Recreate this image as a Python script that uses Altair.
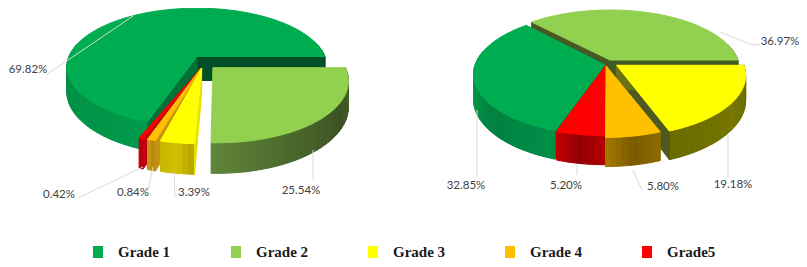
import math
import altair as alt

grades = ["Grade 1", "Grade 2", "Grade 3", "Grade 4", "Grade5"]
left_values = [69.82, 25.54, 3.39, 0.84, 0.42]
right_values = [32.85, 36.97, 19.18, 5.80, 5.20]
left_labels = ["69.82%", "25.54%", "3.39%", "0.84%", "0.42%"]
right_labels = ["32.85%", "36.97%", "19.18%", "5.80%", "5.20%"]
top_colors = ["#00AC50", "#92D050", "#FFFF00", "#FFC000", "#FF0000"]

RX, H = 128, 24
PIE = {"ry": 58, "p": 0.16}
OX, OY = -8, -8  # page -> view


def proj(cx, cy, u, v, h=0):
    s = 1 / (1 - PIE["p"] * v)
    return [cx + u * RX * s + OX, cy + v * PIE["ry"] * s + h * s + OY]


def poly(coords, color):
    ring = coords + [coords[0]]
    return {"type": "Feature", "properties": {"color": color, "stroke": color},
            "geometry": {"type": "Polygon", "coordinates": [ring]}}


def hex2rgb(c):
    return [int(c[i:i + 2], 16) for i in (1, 3, 5)]


def ramp(stops, t):
    t = min(max(t, 0), 1) * (len(stops) - 1)
    i = min(int(t), len(stops) - 2)
    a, b = hex2rgb(stops[i]), hex2rgb(stops[i + 1])
    f = t - i
    return "#%02x%02x%02x" % tuple(round(a[k] + (b[k] - a[k]) * f) for k in range(3))


def slice_features(cx, cy, a0, a1, off, apex_off, wall, cut0, cut1, top):
    feats = []
    du, dv = off
    au, av = apex_off
    steps = max(2, int((a1 - a0) / 2))
    rim = []
    for i in range(steps + 1):
        a = math.radians(a0 + (a1 - a0) * i / steps)
        rim.append((math.cos(a) + du, -math.sin(a) + dv))
    front = [k for k in range(steps) if rim[k][1] - dv > -0.25]
    for n, k in enumerate(front):
        (u1, v1), (u2, v2) = rim[k], rim[k + 1]
        col = ramp(wall, n / max(1, len(front) - 1))
        feats.append(poly([proj(cx, cy, u1, v1), proj(cx, cy, u2, v2),
                           proj(cx, cy, u2, v2, H), proj(cx, cy, u1, v1, H)], col))
    for col, (u, v) in ((cut0, rim[0]), (cut1, rim[-1])):
        if col:
            feats.append(poly([proj(cx, cy, au, av), proj(cx, cy, u, v),
                               proj(cx, cy, u, v, H), proj(cx, cy, au, av, H)], col))
    feats.append(poly([proj(cx, cy, au, av)] + [proj(cx, cy, u, v) for u, v in rim], top))
    return feats


def spans(order, values, start):
    out, a = {}, start
    for g in order:
        out[g] = (a, a + values[g] * 3.6)
        a += values[g] * 3.6
    return out


lv = dict(zip(range(5), left_values))
rv = dict(zip(range(5), right_values))
ls = spans([0, 4, 3, 2, 1], lv, 0)
rs = spans([1, 0, 4, 3, 2], rv, 0)

features = []
LC, RC = (197, 56.5), (610, 60)
left_style = {
    0: ((0, 0), (0, 0), ["#00994B", "#008F45", "#009A4C"], "#004F27", "#007038"),
    4: ((-0.04, 0.19), (0.03, 0.2), ["#C00010", "#B00010"], None, "#C00010"),
    3: ((-0.012, 0.195), (0.03, 0.2), ["#C89010", "#B88A10"], None, "#C89010"),
    2: ((0.018, 0.2), (0.035, 0.2), ["#C8B800", "#D2C000", "#B8A800"], None, "#E8E000"),
    1: ((0.12, 0.19), (0.12, 0.19), ["#5F8338", "#4A682C", "#3D5222", "#4A6129"], None, None),
}
right_style = {
    1: ((0, 0), (0, 0), ["#4A6128", "#4A6128"], "#435A22", "#435A22"),
    0: ((-0.04, 0.07), (-0.04, 0.08), ["#00A050", "#009548", "#008040", "#009048"], None, "#008A44"),
    2: ((0.03, 0.09), (0.05, 0.09), ["#6B6B00", "#767600", "#6B6B00"], "#4F5A20", "#6B7010"),
    4: ((-0.03, 0.08), (-0.03, 0.08), ["#C00000", "#900008", "#B00000"], None, None),
    3: ((-0.03, 0.1), (-0.03, 0.1), ["#A07800", "#7A5A00", "#8A6A00"], None, None),
}
PIE.update(ry=57, p=0.18)
for g in [0, 4, 3, 2, 1]:
    off, apex, wall, c0, c1 = left_style[g]
    features += slice_features(*LC, *ls[g], off, apex, wall, c0, c1, top_colors[g])
PIE.update(ry=58, p=0.16)
for g in [1, 0, 2, 4, 3]:
    off, apex, wall, c0, c1 = right_style[g]
    features += slice_features(*RC, *rs[g], off, apex, wall, c0, c1, top_colors[g])

projection = alt.Projection(type="identity", scale=1, translate=[0, 0])

shapes = alt.Chart(alt.Data(values=features)).mark_geoshape(strokeWidth=1).encode(
    color=alt.Color("properties.color:N", scale=None, legend=None),
    stroke=alt.Stroke("properties.stroke:N", scale=None, legend=None),
).project(**projection.to_dict())

leaders_px = [
    [(46, 75), (133, 16)], [(78, 198), (143, 167)], [(148, 191), (153, 167)],
    [(175, 197), (174, 172)], [(313, 180), (313, 150)],
    [(760, 45), (750, 44), (720, 32)], [(477, 177), (477, 110)], [(577, 175), (577, 165)],
    [(642, 190), (633, 170)], [(728, 178), (728, 135)],
]
leader_feats = [{"type": "Feature", "properties": {},
                 "geometry": {"type": "LineString", "coordinates": [[x + OX, y + OY] for x, y in l]}}
                for l in leaders_px]
leaders = alt.Chart(alt.Data(values=leader_feats)).mark_geoshape(
    filled=False, stroke="#D9D9D9", strokeWidth=1).project(**projection.to_dict())

label_pos = {
    "69.82%": (28, 70), "25.54%": (301, 191), "3.39%": (194, 193), "0.84%": (133, 193), "0.42%": (59, 195),
}
label_pos2 = {
    "32.85%": (466, 186), "36.97%": (780, 42), "19.18%": (733, 185), "5.80%": (663, 187), "5.20%": (566, 186),
}
label_rows = [{"t": t, "lon": label_pos[t][0] + OX, "lat": label_pos[t][1] + OY} for t in left_labels]
label_rows += [{"t": t, "lon": label_pos2[t][0] + OX, "lat": label_pos2[t][1] + OY} for t in right_labels]
labels = alt.Chart(alt.Data(values=label_rows)).mark_text(
    font="Lato", fontSize=11.5, color="#404040", align="center", baseline="middle"
).encode(longitude="lon:Q", latitude="lat:Q", text="t:N").project(**projection.to_dict())

swatch_x = [98, 236, 373, 510, 647]
LEG_Y = 252
swatches = [poly([[x - 5 + OX, LEG_Y - 6 + OY], [x + 5 + OX, LEG_Y - 6 + OY],
                  [x + 5 + OX, LEG_Y + 6 + OY], [x - 5 + OX, LEG_Y + 6 + OY]], c)
            for x, c in zip(swatch_x, top_colors)]
legend_sw = alt.Chart(alt.Data(values=swatches)).mark_geoshape(strokeWidth=0).encode(
    color=alt.Color("properties.color:N", scale=None, legend=None),
).project(**projection.to_dict())
legend_rows = [{"t": g, "lon": x + 20 + OX, "lat": LEG_Y + OY} for g, x in zip(grades, swatch_x)]
legend_tx = alt.Chart(alt.Data(values=legend_rows)).mark_text(
    font="Liberation Serif", fontWeight="bold", fontSize=15, color="#1a1a1a", align="left", baseline="middle"
).encode(longitude="lon:Q", latitude="lat:Q", text="t:N").project(**projection.to_dict())

chart = alt.layer(shapes, leaders, labels, legend_sw, legend_tx).properties(
    width=791, height=251, padding=0, background="#ffffff",
).configure_view(stroke=None)
chart.save("out.html", embed_options={"renderer": "svg", "actions": False})
